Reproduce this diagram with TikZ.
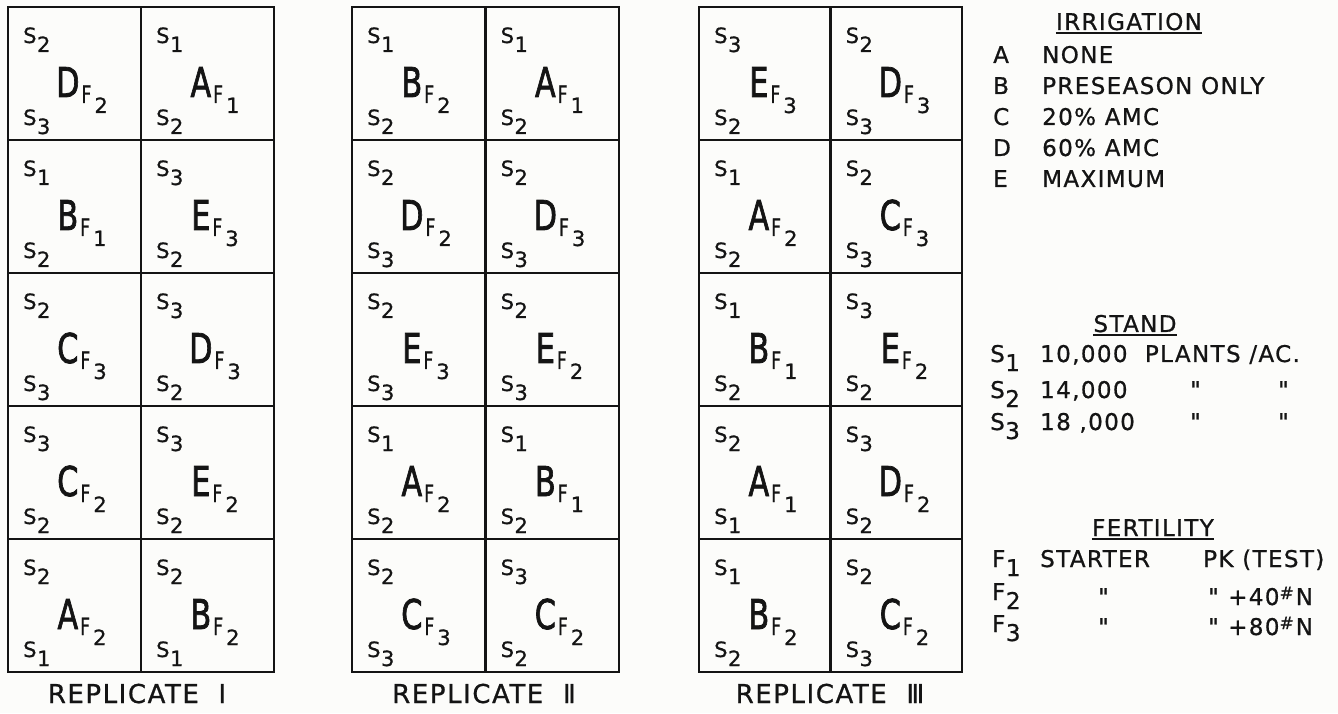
\documentclass[tikz,border=0pt]{standalone}
\usepackage{fontspec}
\setmainfont[FakeBold=0.8]{DejaVu Sans}
\newfontfamily\lgfont[LetterSpace=6,FakeBold=0.8]{DejaVu Sans}
\newfontfamily\bigfont[FakeBold=2]{DejaVu Sans}
\usepackage{graphicx}
\usetikzlibrary{positioning}
\definecolor{ink}{RGB}{20,20,20}
\definecolor{paper}{RGB}{252,252,250}
% stand label: S with lowered digit
\newcommand\stn[1]{S\kern.5pt\raisebox{-9pt}{#1}}
% treatment: irrigation letter with fertility subscript
\newcommand\trt[2]{\scalebox{.74}[1]{\bigfont#1}\kern2pt\raisebox{-6pt}{\fontsize{24}{24}\selectfont\scalebox{.72}[1]{F}\kern3pt\raisebox{-10pt}{\fontsize{21}{21}\selectfont#2}}}

\begin{document}
\begin{tikzpicture}[x=1pt,y=1pt,ink,
  grd/.style={line width=2.4pt,line cap=rect},
  stand/.style={anchor=base west,inner sep=0pt,font=\fontsize{21}{21}\selectfont},
  treat/.style={anchor=base,inner sep=0pt,font=\fontsize{41}{41}\selectfont},
  lgd/.style={anchor=base west,inner sep=0pt,font=\lgfont\fontsize{23}{23}\selectfont},
  hd/.style={lgd,anchor=base},
  ul/.style={line width=1.8pt},
  rep/.style={anchor=base,inner sep=0pt,font=\lgfont\fontsize{26}{26}\selectfont}]
\fill[paper] (0,0) rectangle (1338,713);
\useasboundingbox (0,0) rectangle (1338,713);

% plot grids
\foreach \xo/\cw in {8/133,352/133.5,699/131.5}{
  \draw[grd] (\xo,41) rectangle (\xo+2*\cw,706);
  \draw[grd] (\xo+\cw,41) -- (\xo+\cw,706);
  \foreach \k in {1,...,4}
    \draw[grd] (\xo,706-\k*133) -- (\xo+2*\cw,706-\k*133);
}

% replicate I
\foreach \c/\r/\st/\sb/\tl/\fn in {0/0/2/3/D/2,1/0/1/2/A/1,0/1/1/2/B/1,1/1/3/2/E/3,
  0/2/2/3/C/3,1/2/3/2/D/3,0/3/3/2/C/2,1/3/3/2/E/2,0/4/2/1/A/2,1/4/2/1/B/2}{
  \node[stand] (Ia\c\r) at (8+\c*133+15,706-\r*133-36) {\stn{\st}};
  \node[stand] (Ib\c\r) at (8+\c*133+15,706-\r*133-118) {\stn{\sb}};
  \node[treat] (It\c\r) at (8+\c*133+74,706-\r*133-90) {\trt{\tl}{\fn}};
}
% replicate II
\foreach \c/\r/\st/\sb/\tl/\fn in {0/0/1/2/B/2,1/0/1/2/A/1,0/1/2/3/D/2,1/1/2/3/D/3,
  0/2/2/3/E/3,1/2/2/3/E/2,0/3/1/2/A/2,1/3/1/2/B/1,0/4/2/3/C/3,1/4/3/2/C/2}{
  \node[stand] (IIa\c\r) at (352+\c*133.5+15,706-\r*133-36) {\stn{\st}};
  \node[stand] (IIb\c\r) at (352+\c*133.5+15,706-\r*133-118) {\stn{\sb}};
  \node[treat] (IIt\c\r) at (352+\c*133.5+74,706-\r*133-90) {\trt{\tl}{\fn}};
}
% replicate III
\foreach \c/\r/\st/\sb/\tl/\fn in {0/0/3/2/E/3,1/0/2/3/D/3,0/1/1/2/A/2,1/1/2/3/C/3,
  0/2/1/2/B/1,1/2/3/2/E/2,0/3/2/1/A/1,1/3/3/2/D/2,0/4/1/2/B/2,1/4/2/3/C/2}{
  \node[stand] (IIIa\c\r) at (699+\c*131.5+15,706-\r*133-36) {\stn{\st}};
  \node[stand] (IIIb\c\r) at (699+\c*131.5+15,706-\r*133-118) {\stn{\sb}};
  \node[treat] (IIIt\c\r) at (699+\c*131.5+74,706-\r*133-90) {\trt{\tl}{\fn}};
}

\node[rep] (rI) at (137,10) {REPLICATE\ \ Ⅰ};
\node[rep] (rII) at (484,10) {REPLICATE\ \ Ⅱ};
\node[rep] (rIII) at (830,10) {REPLICATE\ \ Ⅲ};

% legend: irrigation
\node[hd] (irr) at (1129,683) {IRRIGATION};
\draw[ul] ([yshift=-3pt]irr.base west) -- ([yshift=-3pt]irr.base east);
\foreach \k/\t [count=\i] in {A/NONE,B/PRESEASON ONLY,C/20\% AMC,D/60\% AMC,E/MAXIMUM}{
  \node[lgd] (ik\i) at (993,681-\i*31) {\k};
  \node[lgd] (it\i) at (1042,681-\i*31) {\t};
}

% legend: stand
\node[hd] (std) at (1135,381) {STAND};
\draw[ul] ([yshift=-3pt]std.base west) -- ([yshift=-3pt]std.base east);
\node[lgd] (sk1) at (990,351) {\stn{1}};
\node[lgd] (st1) at (1040,351) {10,000\ \ PLANTS /AC.};
\node[lgd] (sk2) at (990,315) {\stn{2}};
\node[lgd] (st2) at (1040,315) {14,000};
\node[lgd] (sk3) at (990,283) {\stn{3}};
\node[lgd] (st3) at (1040,283) {18 ,000};
\foreach \y in {315,283}{
  \node[lgd] at (1190,\y) {"};
  \node[lgd] at (1278,\y) {"};
}

% legend: fertility
\node[hd] (fer) at (1153,177) {FERTILITY};
\draw[ul] ([yshift=-3pt]fer.base west) -- ([yshift=-3pt]fer.base east);
\node[lgd] (fk1) at (992,146) {F\kern.5pt\raisebox{-9pt}{1}};
\node[lgd] (ft1) at (1040,146) {STARTER};
\node[lgd] (fp1) at (1203,146) {PK (TEST)};
\node[lgd] (fk2) at (992,113) {F\kern.5pt\raisebox{-9pt}{2}};
\node[lgd] (fp2) at (1228,108) {+40\raisebox{6pt}{\fontsize{17}{17}\selectfont\#}\kern2pt N};
\node[lgd] (fk3) at (992,81) {F\kern.5pt\raisebox{-9pt}{3}};
\node[lgd] (fp3) at (1228,78) {+80\raisebox{6pt}{\fontsize{17}{17}\selectfont\#}\kern2pt N};
\foreach \y in {108,78}{
  \node[lgd] at (1098,\y) {"};
  \node[lgd] at (1208,\y) {"};
}
\end{tikzpicture}
\end{document}
